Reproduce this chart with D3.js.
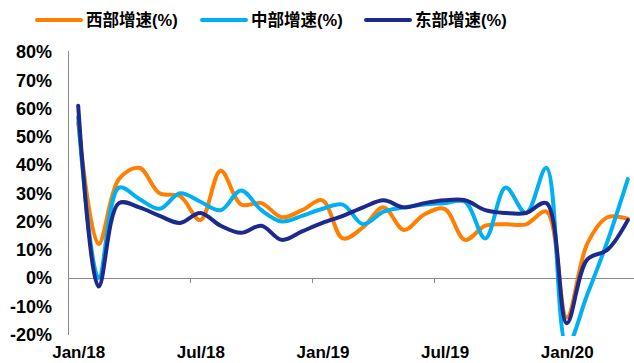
<!doctype html>
<html>
<head>
    <meta charset="utf-8">
    <title>东中西部增速</title>
    <script src="https://cdn.jsdelivr.net/npm/d3@7"></script>
    <style>
        body {
            margin: 0;
            background: #fff;
        }

        text {
            font-family: "Liberation Sans", Arial, "Noto Sans CJK SC", sans-serif;
            font-weight: bold;
            fill: #000;
        }

        .axis path,
        .axis line {
            stroke: #898989;
            shape-rendering: crispEdges;
        }
    </style>
</head>

<body>
    <script>
        "use strict";

        // Jan/18 .. Apr/20, one value per month
        const months = [
            "2018-01", "2018-02", "2018-03", "2018-04", "2018-05", "2018-06",
            "2018-07", "2018-08", "2018-09", "2018-10", "2018-11", "2018-12",
            "2019-01", "2019-02", "2019-03", "2019-04", "2019-05", "2019-06",
            "2019-07", "2019-08", "2019-09", "2019-10", "2019-11", "2019-12",
            "2020-01", "2020-02", "2020-03", "2020-04"
        ];
        const west = [55, 12, 35, 39, 30, 29, 20.5, 38, 26, 26.5, 21.5, 24,
            27.5, 14, 18, 25, 17, 22.5, 24.5, 13.5, 18.5, 19, 19, 23.5,
            -14, 12, 21.5, 21];
        const central = [57, 0, 32, 28, 24.5, 30, 27, 24, 31, 24, 20, 22,
            24.5, 26, 19, 23.5, 25, 26, 26.5, 27, 14, 32, 23, 39,
            -24, -6, 13, 35];
        const east = [61, -3, 26.5, 25, 22, 19.5, 23, 18.5, 16, 18.5, 13.5, 16.5,
            19.5, 22, 25, 27.5, 25, 26.5, 27.5, 27.5, 24, 23, 23, 26.5,
            -16, 6.5, 10, 20.5];
        const seriesNames = ["西部增速(%)", "中部增速(%)", "东部增速(%)"];
        const seriesColors = ["#ff7f00", "#00b0f0", "#1b2a8c"];
        const yTicks = [-20, -10, 0, 10, 20, 30, 40, 50, 60, 70, 80];
        const xTickMonths = ["2018-01", "2018-07", "2019-01", "2019-07", "2020-01"];
        const xTickLabels = ["Jan/18", "Jul/18", "Jan/19", "Jul/19", "Jan/20"];

        const width = 634;
        const height = 363;
        const margin = ({
            top: 52,
            left: 68,
            bottom: 334.5,
            right: 638
        });

        const series = [west, central, east].map((values, k) => ({
            name: seriesNames[k],
            color: seriesColors[k],
            values: values.map((v, i) => ({ month: months[i], value: v }))
        }));

        // category index -> pixel, points sit in the middle of each month
        const xi = d3.scaleLinear()
            .domain([0, months.length])
            .range([margin.left, margin.right]);
        const x = m => xi(months.indexOf(m) + 0.5);

        const y = d3.scaleLinear()
            .domain([-20, 80])
            .range([margin.bottom, margin.top]);

        const svg = d3.select("body").append("svg")
            .attr("width", width)
            .attr("height", height);

        svg.append("defs").append("clipPath")
            .attr("id", "plot")
            .append("rect")
            .attr("x", margin.left)
            .attr("y", 0)
            .attr("width", width - margin.left)
            .attr("height", 336);

        // y axis
        svg.append("g")
            .attr("class", "axis")
            .attr("transform", `translate(${margin.left},0)`)
            .call(d3.axisLeft(y).tickValues(yTicks).tickSize(0).tickPadding(16)
                .tickFormat(d => d + "%"))
            .call(g => g.select(".domain").attr("d", `M0,${margin.top - 1}V${margin.bottom}`))
            .call(g => g.selectAll("text").attr("font-size", 18)
                .attr("font-family", null).attr("fill", null));

        // x axis on the zero line, tick marks on the month boundaries
        svg.append("g")
            .attr("class", "axis")
            .attr("transform", `translate(0,${y(0)})`)
            .call(d3.axisBottom(xi)
                .tickValues(xTickMonths.map(m => months.indexOf(m)))
                .tickSize(5)
                .tickSizeOuter(0)
                .tickFormat(""))
            .call(g => g.select(".domain").attr("d", `M${margin.left},0H${width}`));

        // month labels along the bottom
        svg.append("g")
            .attr("transform", `translate(0,${margin.bottom})`)
            .call(d3.axisBottom(xi)
                .tickValues(xTickMonths.map(m => months.indexOf(m) + 0.5))
                .tickSize(0)
                .tickPadding(11)
                .tickFormat((d, i) => xTickLabels[i]))
            .call(g => g.select(".domain").remove())
            .call(g => g.selectAll("text").attr("font-size", 17)
                .attr("font-family", null).attr("fill", null));

        const line = d3.line()
            .curve(d3.curveCatmullRom.alpha(0.5))
            .x(d => x(d.month))
            .y(d => y(d.value));

        svg.append("g")
            .attr("clip-path", "url(#plot)")
            .selectAll("path")
            .data(series)
            .join("path")
            .attr("fill", "none")
            .attr("stroke", d => d.color)
            .attr("stroke-width", 4)
            .attr("stroke-linejoin", "round")
            .attr("stroke-linecap", "round")
            .attr("d", d => line(d.values));

        // legend
        const legendX = [37, 202, 366];
        const legend = svg.append("g")
            .selectAll("g")
            .data(series)
            .join("g")
            .attr("transform", (d, i) => `translate(${legendX[i]},20)`);

        legend.append("line")
            .attr("x1", 0)
            .attr("x2", 44)
            .attr("stroke", d => d.color)
            .attr("stroke-width", 4)
            .attr("stroke-linecap", "round");

        legend.append("text")
            .attr("x", 49)
            .attr("dy", "0.36em")
            .attr("font-size", 16.5)
            .text(d => d.name);
    </script>
</body>

</html>
